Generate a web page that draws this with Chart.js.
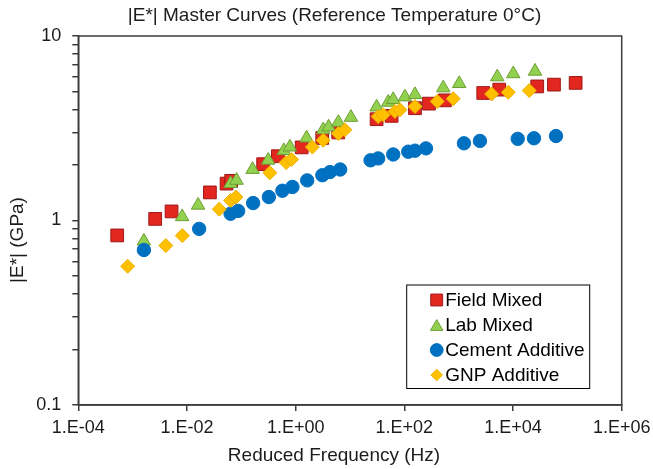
<!DOCTYPE html>
<html>
<head>
<meta charset="utf-8">
<script src="https://cdn.jsdelivr.net/npm/chart.js@4.4.1/dist/chart.umd.min.js"></script>
<style>
html,body{margin:0;padding:0;background:#fff;}
#wrap{width:653px;height:469px;}
</style>
</head>
<body>
<div id="wrap"><canvas id="c" width="653" height="469"></canvas></div>
<script>
const chartTitle = '|E*| Master Curves (Reference Temperature 0°C)';
const xTitle = 'Reduced Frequency (Hz)';
const yTitle = '|E*| (GPa)';
const seriesNames = ['Field Mixed', 'Lab Mixed', 'Cement Additive', 'GNP Additive'];

const xTickValues = [1e-4, 1e-2, 1, 1e2, 1e4, 1e6];
const xTickLabels = ['1.E-04', '1.E-02', '1.E+00', '1.E+02', '1.E+04', '1.E+06'];
const yTickValues = [0.1,0.2,0.3,0.4,0.5,0.6,0.7,0.8,0.9,1,2,3,4,5,6,7,8,9,10];
const yMajorValues = [0.1, 1, 10];
const yTickLabels = ['0.1', '1', '10'];

const fieldFreq = [5.2e-4, 2.6e-3, 5.2e-3, 0.0264, 0.0535, 0.065, 0.252, 0.471, 1.29, 3.08, 6.07, 30.9, 58.3, 157, 284, 558, 2830, 5580, 27900, 56700, 142000];
const fieldE    = [0.83, 1.02, 1.12, 1.42, 1.585, 1.64, 2.02, 2.23, 2.49, 2.80, 3.00, 3.54, 3.69, 4.06, 4.30, 4.48, 4.91, 5.12, 5.33, 5.45, 5.57];

const labFreq = [1.61e-3, 8.15e-3, 0.016, 0.0634, 0.0817, 0.161, 0.312, 0.607, 0.783, 1.59, 3.21, 4.04, 6.11, 10.4, 30.9, 50.5, 62.4, 102.6, 157, 520, 1023, 5130, 10100, 25400];
const labE    = [0.773, 1.048, 1.21, 1.585, 1.65, 1.89, 2.12, 2.39, 2.50, 2.80, 3.10, 3.21, 3.40, 3.62, 4.12, 4.37, 4.52, 4.67, 4.81, 5.23, 5.52, 6.00, 6.24, 6.44];

const cementFreq = [1.61e-3, 0.01675, 0.0634, 0.0875, 0.165, 0.321, 0.57, 0.871, 1.63, 3.1, 4.27, 6.6, 23.9, 33, 62.4, 118, 157, 250, 1250, 2460, 12200, 24300, 61800];
const cementE    = [0.692, 0.901, 1.088, 1.127, 1.243, 1.34, 1.45, 1.52, 1.65, 1.76, 1.83, 1.89, 2.12, 2.17, 2.28, 2.36, 2.39, 2.46, 2.62, 2.70, 2.77, 2.79, 2.87];

const gnpFreq = [8.1e-4, 4.08e-3, 8.2e-3, 0.0394, 0.0634, 0.0794, 0.335, 0.668, 0.84, 2.03, 3.21, 6.11, 8.05, 33, 40.8, 67.1, 83, 157, 403, 794, 4045, 8170, 19900];
const gnpE    = [0.565, 0.731, 0.828, 1.152, 1.285, 1.34, 1.815, 2.06, 2.14, 2.50, 2.72, 2.96, 3.10, 3.66, 3.74, 3.90, 3.98, 4.15, 4.42, 4.57, 4.85, 4.95, 5.06];

const FONT = 'Liberation Sans, Arial, sans-serif';
const TEXT = '#1c1c1c';
const AXIS = '#3c3c3c';

function pts(xs, ys){ return xs.map((x,i)=>({x:x, y:ys[i]})); }

const styles = [
  {pointStyle:'rect',     r:9.0, fill:'#E3261F', stroke:'#9E1A16', lr:8.4},
  {pointStyle:'triangle', r:7.8, fill:'#92D050', stroke:'#6E9F35', lr:7.2},
  {pointStyle:'circle',   r:6.7, fill:'#0070C0', stroke:'#0070C0', lr:6.4},
  {pointStyle:'rectRot',  r:7.0, fill:'#FFC000', stroke:'#EDB000', lr:5.8}
];
const allData = [pts(fieldFreq, fieldE), pts(labFreq, labE), pts(cementFreq, cementE), pts(gnpFreq, gnpE)];

const datasets = allData.map((d,i)=>({
  label: seriesNames[i],
  data: d,
  showLine:false,
  pointStyle: styles[i].pointStyle,
  pointRadius: styles[i].r,
  pointHoverRadius: styles[i].r,
  pointBackgroundColor: styles[i].fill,
  pointBorderColor: styles[i].stroke,
  pointBorderWidth: 1,
  order: 4 - i
}));

function drawMarker(ctx, style, x, y, r, fill, stroke){
  ctx.save();
  ctx.beginPath();
  if (style === 'rect') {
    const s = r * Math.SQRT1_2;
    ctx.rect(x - s, y - s, 2*s, 2*s);
  } else if (style === 'triangle') {
    let a = 0;
    ctx.moveTo(x + Math.sin(a)*r, y - Math.cos(a)*r);
    a += 2*Math.PI/3;
    ctx.lineTo(x + Math.sin(a)*r, y - Math.cos(a)*r);
    a += 2*Math.PI/3;
    ctx.lineTo(x + Math.sin(a)*r, y - Math.cos(a)*r);
    ctx.closePath();
  } else if (style === 'circle') {
    ctx.arc(x, y, r, 0, Math.PI*2);
  } else {
    ctx.moveTo(x, y - r); ctx.lineTo(x + r, y); ctx.lineTo(x, y + r); ctx.lineTo(x - r, y); ctx.closePath();
  }
  ctx.fillStyle = fill; ctx.fill();
  ctx.lineWidth = 1; ctx.strokeStyle = stroke; ctx.stroke();
  ctx.restore();
}

const framePlugin = {
  id:'frame',
  beforeDatasetsDraw(chart){
    const {ctx, chartArea:a} = chart;
    ctx.save();
    ctx.strokeStyle = AXIS; ctx.lineWidth = 1.5;
    ctx.strokeRect(a.left, a.top, a.right - a.left, a.bottom - a.top);
    ctx.restore();
  }
};

const extrasPlugin = {
  id:'extras',
  afterDraw(chart){
    const {ctx, chartArea:a} = chart;
    ctx.save();
    ctx.fillStyle = TEXT;
    ctx.textAlign = 'center'; ctx.textBaseline = 'middle';
    // chart title
    ctx.font = '19px ' + FONT;
    ctx.fillText(chartTitle, 334.5, 16);
    // x axis title
    ctx.fillText(xTitle, 334, 456);
    // y axis title
    ctx.save();
    ctx.translate(17.5, 240);
    ctx.rotate(-Math.PI/2);
    ctx.fillText(yTitle, 0, 0);
    ctx.restore();
    // legend
    const lx = a.right - 215, ly = a.bottom - 120, lw = 183, lh = 103.5;
    ctx.fillStyle = '#fff';
    ctx.fillRect(lx, ly, lw, lh);
    ctx.strokeStyle = '#000'; ctx.lineWidth = 1;
    ctx.strokeRect(lx, ly, lw, lh);
    ctx.textAlign = 'left';
    ctx.font = '19px ' + FONT;
    for (let i = 0; i < seriesNames.length; i++) {
      const cy = ly + 15 + i*25;
      const st = styles[i];
      const my = st.pointStyle === 'triangle' ? cy + st.lr/4 : cy;
      drawMarker(ctx, st.pointStyle, lx + 30, my, st.lr, st.fill, st.stroke);
      ctx.fillStyle = '#000';
      ctx.fillText(seriesNames[i], lx + 38.5, cy + 1);
    }
    ctx.restore();
  }
};

new Chart(document.getElementById('c'), {
  type:'scatter',
  data:{datasets:datasets},
  plugins:[framePlugin, extrasPlugin],
  options:{
    responsive:false,
    animation:false,
    devicePixelRatio:1,
    layout:{padding:{left:0, right:31.3, top:36, bottom:0}},
    plugins:{
      legend:{display:false},
      tooltip:{enabled:false},
      title:{display:false}
    },
    scales:{
      x:{
        type:'logarithmic', min:1e-4, max:1e6,
        afterBuildTicks(s){ s.ticks = xTickValues.map(v=>({value:v, major:true})); },
        afterFit(s){ s.height = 64; s.paddingRight = 0; s.paddingLeft = 0; },
        ticks:{autoSkip:false, maxRotation:0, minRotation:0, padding:6, color:TEXT,
          font:{family:FONT, size:18},
          callback:(v, i)=> xTickLabels[i]},
        grid:{display:true, drawOnChartArea:false, drawTicks:true, tickLength:6, color:AXIS, lineWidth:1.5},
        border:{display:true, color:AXIS, width:1.5}
      },
      y:{
        type:'logarithmic', min:0.1, max:10,
        afterBuildTicks(s){ s.ticks = yTickValues.map(v=>({value:v})); },
        afterFit(s){ s.width = 78.3; s.paddingTop = 0; s.paddingBottom = 0; },
        ticks:{autoSkip:false, padding:11, color:TEXT,
          font:{family:FONT, size:18},
          callback:(v, i)=>{ const k = yMajorValues.indexOf(yTickValues[i]); return k >= 0 ? yTickLabels[k] : ''; }},
        grid:{display:true, drawOnChartArea:false, drawTicks:true, tickLength:6, color:AXIS, lineWidth:1.5},
        border:{display:true, color:AXIS, width:1.5}
      }
    }
  }
});
</script>
</body>
</html>
